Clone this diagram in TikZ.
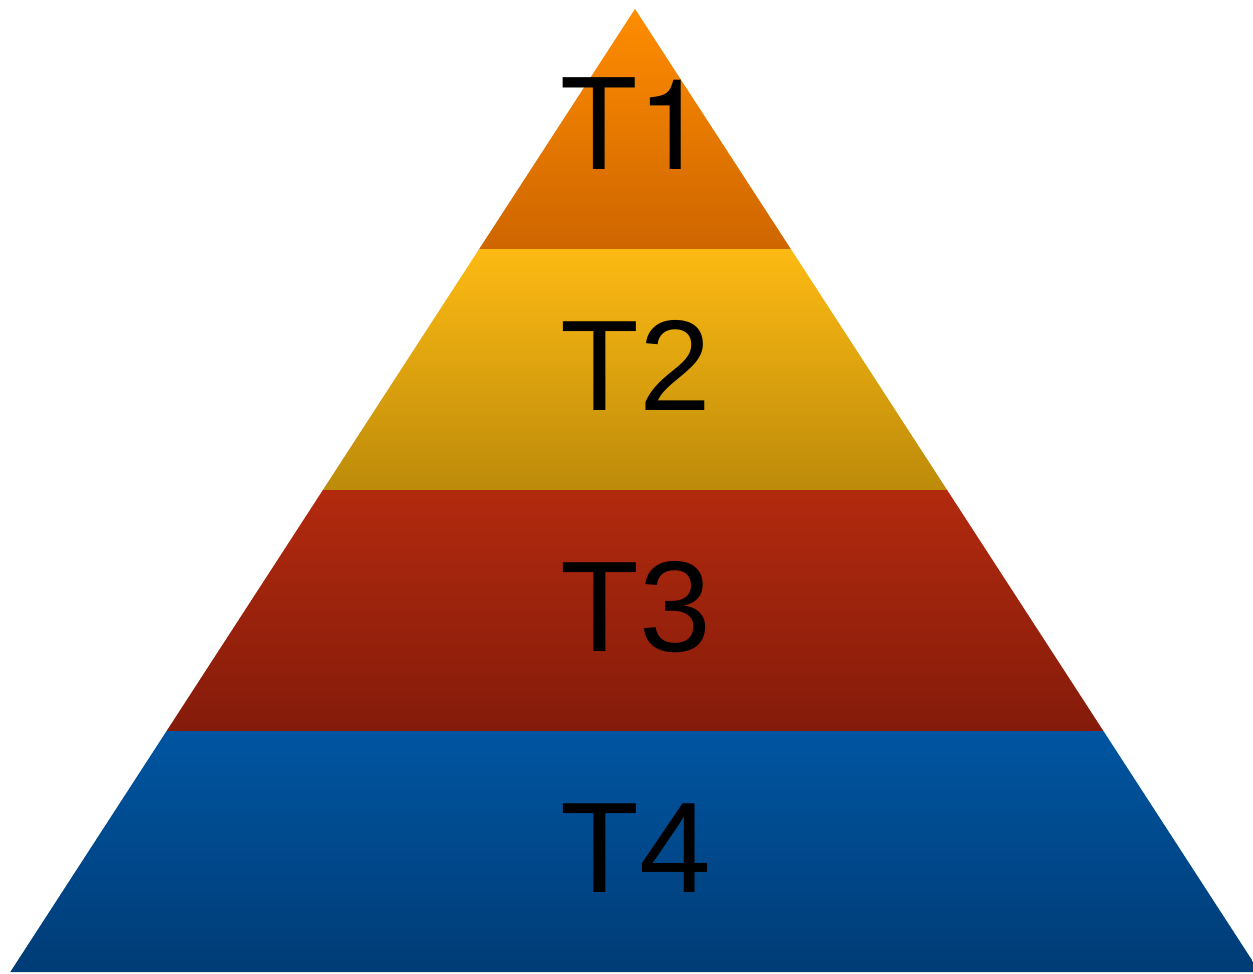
\documentclass[tikz,border=0pt]{standalone}
\usepackage{fontspec}
\setmainfont{Liberation Sans}
\newfontfamily\herosfont{TeX Gyre Heros}
\definecolor{oTop}{RGB}{255,141,0}
\definecolor{oBot}{RGB}{206,101,0}
\definecolor{yTop}{RGB}{253,186,19}
\definecolor{yBot}{RGB}{189,139,10}
\definecolor{rTop}{RGB}{178,42,14}
\definecolor{rBot}{RGB}{132,27,10}
\definecolor{bTop}{RGB}{0,85,161}
\definecolor{bBot}{RGB}{0,60,118}
\tikzset{
  tierlabel/.style={inner sep=0pt, anchor=base west, font=\fontsize{129}{129}\selectfont, text=black},
  toplabel/.style={inner sep=0pt, anchor=base west, font=\herosfont\fontsize{126}{126}\selectfont, text=black},
}
\begin{document}
\begin{tikzpicture}[x=1pt,y=-1pt]
\useasboundingbox (0,0) rectangle (1253,974);
\begin{scope}
\clip (0,0) rectangle (1253,974);
\shade[top color=oTop, bottom color=oBot] (635,9) -- (790.8,249) -- (479.2,249) -- cycle;
\shade[top color=yTop, bottom color=yBot] (479.2,249) -- (790.8,249) -- (947.1,490) -- (322.9,490) -- cycle;
\shade[top color=rTop, bottom color=rBot] (322.9,490) -- (947.1,490) -- (1103.4,731) -- (166.6,731) -- cycle;
\shade[top color=bTop, bottom color=bBot] (166.6,731) -- (1103.4,731) -- (1259.7,972) -- (10.3,972) -- cycle;
\end{scope}
\node[toplabel] (t1) at (560,169) {T1};
\node[tierlabel] (t2) at (560,410) {T2};
\node[tierlabel] (t3) at (560,651) {T3};
\node[tierlabel] (t4) at (560,892) {T4};
\end{tikzpicture}
\end{document}
